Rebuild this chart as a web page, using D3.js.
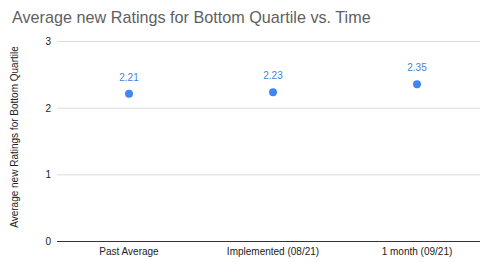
<!DOCTYPE html>
<html>
<head>
<meta charset="utf-8">
<script src="https://cdn.jsdelivr.net/npm/d3@7"></script>
<style>
  body { margin: 0; background: #fff; }
  text { font-family: Arial, "Liberation Sans", sans-serif; }
</style>
</head>
<body>
<div id="chart"></div>
<script>
  // data
  const categories = ['Past Average', 'Implemented (08/21)', '1 month (09/21)'];
  const ratings = [2.21, 2.23, 2.35];
  const yTicks = [0, 1, 2, 3];

  const width = 480, height = 262;
  const svg = d3.select('#chart').append('svg')
    .attr('width', width)
    .attr('height', height);

  const x = d3.scalePoint()
    .domain(categories)
    .range([129, 417]);

  const y = d3.scaleLinear()
    .domain([0, 3])
    .range([241, 41]);

  // title
  svg.append('text')
    .attr('x', 12)
    .attr('y', 23)
    .attr('font-size', 16.2)
    .attr('fill', '#5f5f5f')
    .text('Average new Ratings for Bottom Quartile vs. Time');

  // gridlines
  svg.append('g')
    .selectAll('line')
    .data(yTicks)
    .join('line')
    .attr('x1', 57)
    .attr('x2', width)
    .attr('y1', d => y(d) + 0.5)
    .attr('y2', d => y(d) + 0.5)
    .attr('stroke', d => d === 0 ? '#333' : '#dcdcdc')
    .attr('stroke-width', 1);

  // y tick labels
  svg.append('g')
    .selectAll('text')
    .data(yTicks)
    .join('text')
    .attr('x', 51)
    .attr('y', d => y(d) + 4)
    .attr('text-anchor', 'end')
    .attr('font-size', 10)
    .attr('fill', '#222')
    .text(d => d);

  // y axis title
  svg.append('text')
    .attr('transform', 'translate(18,137) rotate(-90)')
    .attr('text-anchor', 'middle')
    .attr('font-size', 10)
    .attr('fill', '#222')
    .text('Average new Ratings for Bottom Quartile');

  // x labels
  svg.append('g')
    .selectAll('text')
    .data(categories)
    .join('text')
    .attr('x', d => x(d))
    .attr('y', 255)
    .attr('text-anchor', 'middle')
    .attr('font-size', 10)
    .attr('fill', '#222')
    .text(d => d);

  // points
  svg.append('g')
    .selectAll('circle')
    .data(ratings)
    .join('circle')
    .attr('cx', (d, i) => x(categories[i]))
    .attr('cy', d => y(d))
    .attr('r', 4)
    .attr('fill', '#4285f4');

  // value labels
  svg.append('g')
    .selectAll('text')
    .data(ratings)
    .join('text')
    .attr('x', (d, i) => x(categories[i]))
    .attr('y', d => y(d) - 13)
    .attr('text-anchor', 'middle')
    .attr('font-size', 10)
    .attr('fill', '#4a7fd8')
    .text(d => d.toFixed(2));
</script>
</body>
</html>
